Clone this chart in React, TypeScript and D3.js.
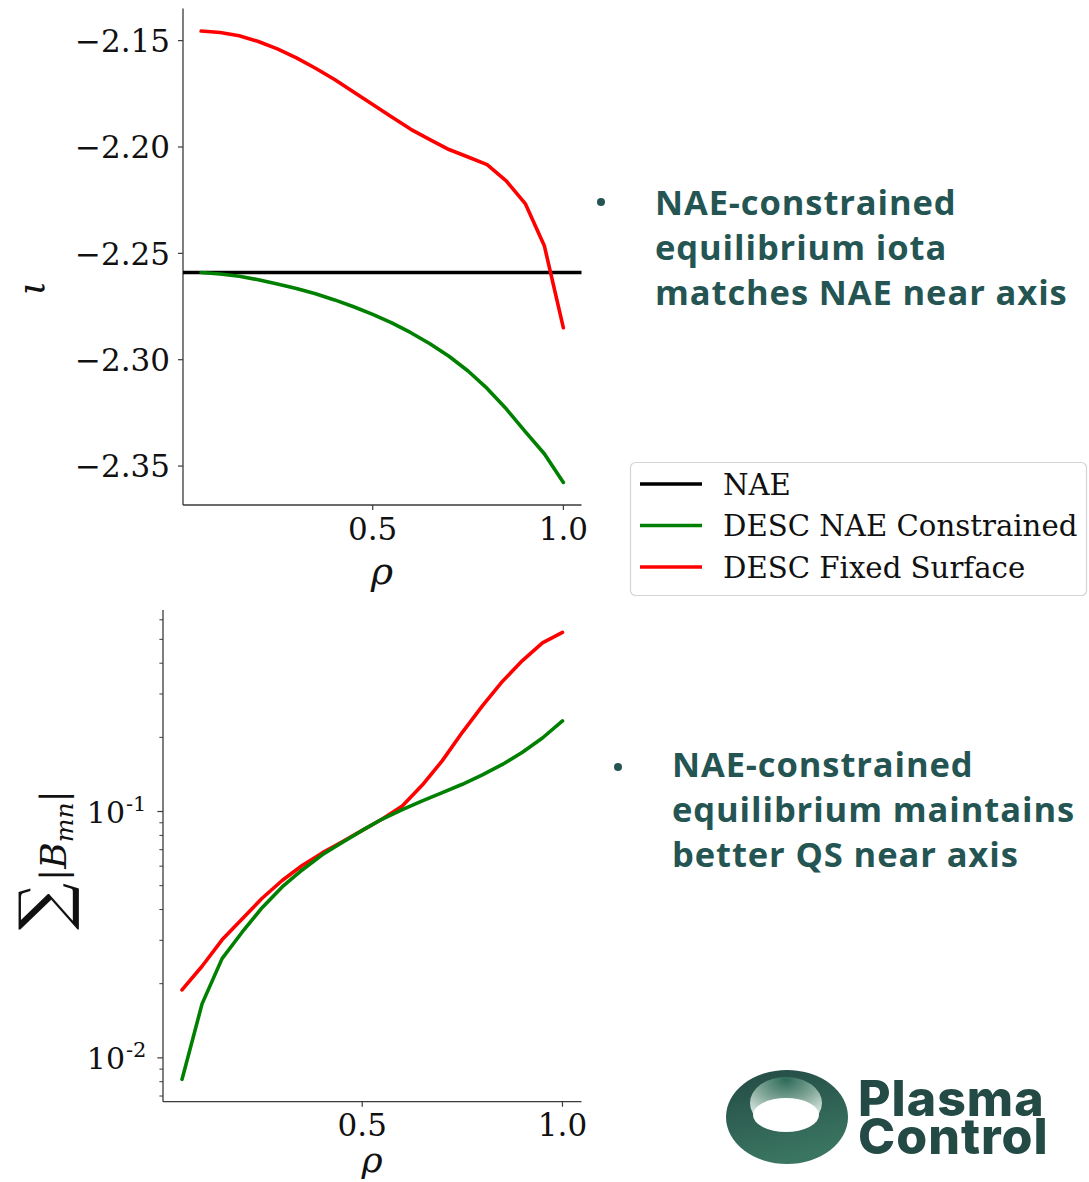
import React from "react";
import * as d3 from "d3";

// Radial coordinate samples shared by both panels
const rho = [0.05, 0.1, 0.15, 0.2, 0.25, 0.3, 0.35, 0.4, 0.45, 0.5, 0.55, 0.6, 0.65, 0.7, 0.75, 0.8, 0.85, 0.9, 0.95, 1.0];

// Rotational transform profiles
const iotaNAE = -2.259;
const iotaConstrained = [-2.259, -2.2597, -2.2608, -2.2624, -2.2644, -2.2665, -2.269, -2.2719, -2.2751, -2.2787, -2.2827, -2.2873, -2.2925, -2.2984, -2.3053, -2.3135, -2.3231, -2.3338, -2.3442, -2.3577];
const iotaFixed = [-2.1455, -2.1462, -2.1477, -2.1504, -2.1539, -2.1581, -2.163, -2.1683, -2.1742, -2.18, -2.1859, -2.1917, -2.1965, -2.2012, -2.2047, -2.2083, -2.2159, -2.2266, -2.2464, -2.285];

// Quasi-symmetry error, sum of |B_mn|
const bmnConstrained = [0.00818, 0.01656, 0.02528, 0.03236, 0.0407, 0.0494, 0.0579, 0.0667, 0.0749, 0.0838, 0.0932, 0.1018, 0.1104, 0.1193, 0.129, 0.1408, 0.1553, 0.1739, 0.1988, 0.2331];
const bmnFixed = [0.01887, 0.02355, 0.03013, 0.0366, 0.04446, 0.05248, 0.0604, 0.0679, 0.0754, 0.0838, 0.0932, 0.1054, 0.128, 0.1609, 0.2097, 0.2685, 0.3375, 0.41, 0.4836, 0.5337];

const iotaTicks = [-2.15, -2.2, -2.25, -2.3, -2.35];
const rhoTicks = [0.5, 1.0];
const logMajor = [0.01, 0.1];

const legendItems = [
  { label: "NAE", color: "#000000" },
  { label: "DESC NAE Constrained", color: "#008000" },
  { label: "DESC Fixed Surface", color: "#ff0000" },
];

const bullet1 = ["NAE-constrained", "equilibrium iota", "matches NAE near axis"];
const bullet2 = ["NAE-constrained", "equilibrium maintains", "better QS near axis"];
const brand = ["Plasma", "Control"];

const SERIF = "'DejaVu Serif', serif";
const TEAL = "#245553";
const LW = 3.6;

function pad(lo: number, hi: number) {
  const m = (hi - lo) * 0.05;
  return [lo - m, hi + m];
}

export default function App() {
  const W = 1089;
  const H = 1182;

  // ----- top panel -----
  const xTop = d3.scaleLinear().domain(pad(d3.min(rho)!, d3.max(rho)!)).range([183, 581.5]);
  const allIota = [...iotaConstrained, ...iotaFixed, iotaNAE];
  const yTop = d3.scaleLinear().domain(pad(d3.min(allIota)!, d3.max(allIota)!)).range([505, 8.5]);
  const lineTop = d3.line<number>().x((_, i) => xTop(rho[i])).y((d) => yTop(d));

  // ----- bottom panel -----
  const bx0 = 163;
  const bx1 = 581.5;
  const by0 = 1101.7;
  const by1 = 610;
  const xBot = d3.scaleLinear().domain(pad(d3.min(rho)!, d3.max(rho)!)).range([bx0, bx1]);
  const allB = [...bmnConstrained, ...bmnFixed];
  const [l0, l1] = pad(Math.log10(d3.min(allB)!), Math.log10(d3.max(allB)!));
  const yBot = d3.scaleLog().domain([10 ** l0, 10 ** l1]).range([by0, by1]);
  const lineBot = d3.line<number>().x((_, i) => xBot(rho[i])).y((d) => yBot(d));
  const [bLo, bHi] = yBot.domain();
  const minorTicks: number[] = [];
  for (let e = -3; e <= 0; e++) {
    for (let k = 2; k <= 9; k++) {
      const v = k * 10 ** e;
      if (v >= bLo && v <= bHi) minorTicks.push(v);
    }
  }

  const spine = "#3a3a3a";

  return (
    <svg width={W} height={H} style={{ position: "absolute", left: 0, top: 0, background: "#fff" }}>
      <defs>
        <linearGradient id="torusBody" x1="0" y1="0" x2="0.3" y2="1">
          <stop offset="0" stopColor="#234a44" />
          <stop offset="1" stopColor="#3a7561" />
        </linearGradient>
        <radialGradient id="torusWall" cx="0.5" cy="0.05" r="0.75">
          <stop offset="0" stopColor="#2d6a58" />
          <stop offset="0.55" stopColor="#7fa596" />
          <stop offset="1" stopColor="#d0e0d8" />
        </radialGradient>
      </defs>

      {/* top panel: rotational transform */}
      <g>
        <line x1={183} x2={183} y1={8.5} y2={505} stroke={spine} strokeWidth={1.3} />
        <line x1={183} x2={581.5} y1={505} y2={505} stroke={spine} strokeWidth={1.3} />
        {iotaTicks.map((t) => (
          <g key={t}>
            <line x1={178} x2={183} y1={yTop(t)} y2={yTop(t)} stroke={spine} strokeWidth={1.2} />
            <text x={170} y={yTop(t)} dy="0.36em" textAnchor="end" fontFamily={SERIF} fontSize={31} fill="#111">
              {"\u2212" + Math.abs(t).toFixed(2)}
            </text>
          </g>
        ))}
        {rhoTicks.map((t) => (
          <g key={t}>
            <line x1={xTop(t)} x2={xTop(t)} y1={505} y2={510} stroke={spine} strokeWidth={1.2} />
            <text x={xTop(t)} y={540} textAnchor="middle" fontFamily={SERIF} fontSize={31} fill="#111">
              {t.toFixed(1)}
            </text>
          </g>
        ))}
        <line x1={183} x2={581.5} y1={yTop(iotaNAE)} y2={yTop(iotaNAE)} stroke="#000" strokeWidth={LW} />
        <path d={lineTop(iotaConstrained)!} fill="none" stroke="#008000" strokeWidth={LW} strokeLinejoin="round" strokeLinecap="round" />
        <path d={lineTop(iotaFixed)!} fill="none" stroke="#ff0000" strokeWidth={LW} strokeLinejoin="round" strokeLinecap="round" />
        <text x={382} y={584} textAnchor="middle" fontFamily={SERIF} fontStyle="italic" fontSize={38} fill="#111">ρ</text>
        <text transform="translate(44,288) rotate(-90)" textAnchor="middle" fontFamily={SERIF} fontStyle="italic" fontSize={38} fill="#111">ι</text>
      </g>

      {/* bottom panel: quasi-symmetry error */}
      <g>
        <line x1={bx0} x2={bx0} y1={by1} y2={by0} stroke={spine} strokeWidth={1.3} />
        <line x1={bx0} x2={bx1} y1={by0} y2={by0} stroke={spine} strokeWidth={1.3} />
        {minorTicks.map((t) => (
          <line key={t} x1={bx0 - 3.6} x2={bx0} y1={yBot(t)} y2={yBot(t)} stroke={spine} strokeWidth={1} />
        ))}
        {logMajor.map((t) => {
          const e = Math.round(Math.log10(t));
          return (
            <g key={t}>
              <line x1={bx0 - 5.6} x2={bx0} y1={yBot(t)} y2={yBot(t)} stroke={spine} strokeWidth={1.2} />
              <text x={125} y={yBot(t) + 11} textAnchor="end" fontFamily={SERIF} fontSize={30} fill="#111">10</text>
              <text x={126} y={yBot(t) - 1} textAnchor="start" fontFamily={SERIF} fontSize={21} fill="#111">
                {"-" + Math.abs(e)}
              </text>
            </g>
          );
        })}
        {rhoTicks.map((t) => (
          <g key={t}>
            <line x1={xBot(t)} x2={xBot(t)} y1={by0} y2={by0 + 5} stroke={spine} strokeWidth={1.2} />
            <text x={xBot(t)} y={1136} textAnchor="middle" fontFamily={SERIF} fontSize={31} fill="#111">
              {t.toFixed(1)}
            </text>
          </g>
        ))}
        <path d={lineBot(bmnFixed)!} fill="none" stroke="#ff0000" strokeWidth={LW} strokeLinejoin="round" strokeLinecap="round" />
        <path d={lineBot(bmnConstrained)!} fill="none" stroke="#008000" strokeWidth={LW} strokeLinejoin="round" strokeLinecap="round" />
        <text x={372} y={1172} textAnchor="middle" fontFamily={SERIF} fontStyle="italic" fontSize={36} fill="#111">ρ</text>
        <text transform="translate(66,930) rotate(-90)" fontFamily={SERIF} fill="#111">
          <tspan fontSize={66}>∑</tspan>
          <tspan fontSize={36} dx={2}>|</tspan>
          <tspan fontSize={36} fontStyle="italic">B</tspan>
          <tspan fontSize={25} fontStyle="italic" dy={7}>mn</tspan>
          <tspan fontSize={36} dy={-7}>|</tspan>
        </text>
      </g>

      {/* legend */}
      <g>
        <rect x={630.5} y={462.5} width={456} height={133} rx={5} fill="#fff" stroke="#d4d4d4" strokeWidth={1.2} />
        {legendItems.map((it, i) => (
          <g key={it.label}>
            <line x1={640} x2={702} y1={484 + i * 41.5} y2={484 + i * 41.5} stroke={it.color} strokeWidth={LW} />
            <text x={723} y={484 + i * 41.5} dy="0.36em" fontFamily={SERIF} fontSize={29.2} fill="#111">
              {it.label}
            </text>
          </g>
        ))}
      </g>

      {/* bullet notes */}
      <g fontFamily="'Open Sans', sans-serif" fontWeight={700} fill={TEAL} letterSpacing={0.9}>
        <circle cx={601} cy={202} r={4} />
        {bullet1.map((s, i) => (
          <text key={i} x={655} y={215 + i * 45} fontSize={34.5}>{s}</text>
        ))}
        <circle cx={618} cy={767} r={4} />
        {bullet2.map((s, i) => (
          <text key={i} x={672} y={777 + i * 45} fontSize={34.5}>{s}</text>
        ))}
      </g>

      {/* logo */}
      <g>
        <ellipse cx={787} cy={1117} rx={61} ry={47} fill="url(#torusBody)" />
        <ellipse cx={786} cy={1103} rx={36} ry={26} fill="url(#torusWall)" />
        <ellipse cx={786} cy={1115} rx={33} ry={17} fill="#fff" />
        <text fontFamily="Inter, sans-serif" fontWeight={800} fill="#244a46" letterSpacing={1} fontSize={50}>
          {brand.map((s, i) => (
            <tspan key={s} x={858} y={1116 + i * 38}>{s}</tspan>
          ))}
        </text>
      </g>
    </svg>
  );
}
